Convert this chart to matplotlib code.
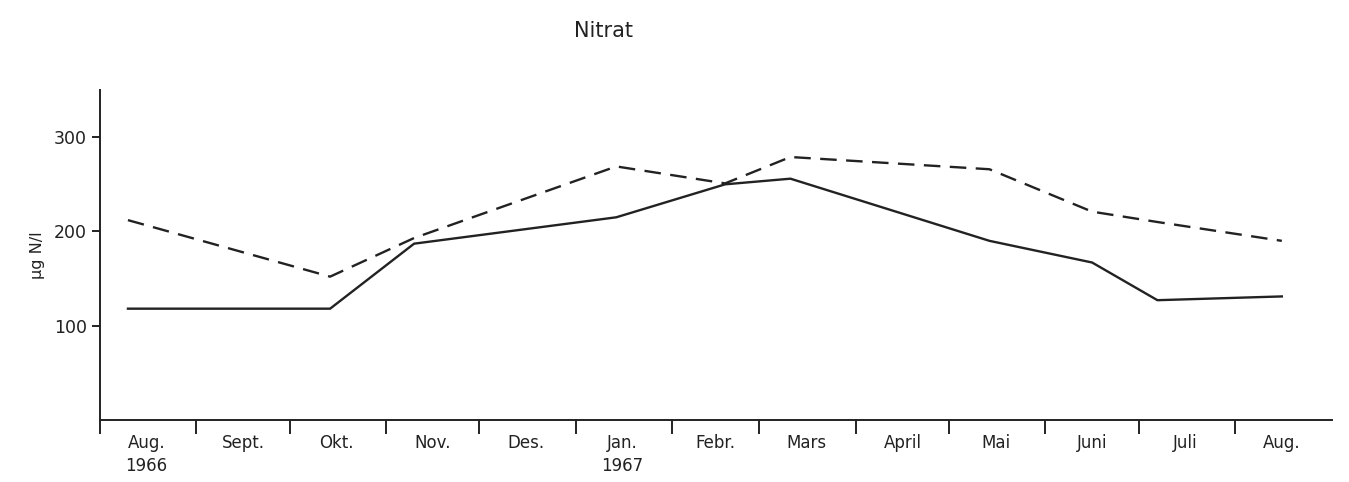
import numpy as np
import matplotlib.pyplot as plt
import matplotlib.dates as mdates
from matplotlib.ticker import FixedLocator, NullFormatter

# sampling dates and nitrate (ug N/l)
dates_solid = np.array(['1966-08-10', '1966-10-14', '1966-11-10', '1967-01-14',
                        '1967-02-18', '1967-03-11', '1967-05-14', '1967-06-16',
                        '1967-07-07', '1967-08-16'], dtype='datetime64[D]')
vals_solid = [118, 118, 187, 215, 250, 256, 190, 167, 127, 131]

dates_dash = np.array(['1966-08-10', '1966-10-14', '1966-11-10', '1967-01-14',
                       '1967-02-18', '1967-03-11', '1967-05-14', '1967-06-16',
                       '1967-07-07', '1967-08-16'], dtype='datetime64[D]')
vals_dash = [212, 152, 193, 269, 251, 279, 266, 221, 210, 190]

month_edges = np.arange(np.datetime64('1966-08'), np.datetime64('1967-10'),
                        dtype='datetime64[M]').astype('datetime64[D]')
month_labels = ['Aug.\n1966', 'Sept.', 'Okt.', 'Nov.', 'Des.', 'Jan.\n1967', 'Febr.',
                'Mars', 'April', 'Mai', 'Juni', 'Juli', 'Aug.']
yticks = [100, 200, 300]

col = '#222222'
fig = plt.figure(figsize=(13.49, 4.82), dpi=100)
ax = fig.add_axes([0.0741, 0.129, 0.913, 0.684])

ax.plot(dates_solid, vals_solid, color=col, lw=1.7)
ax.plot(dates_dash, vals_dash, color=col, lw=1.7, dashes=(7, 4))

ax.set_xlim(month_edges[0], month_edges[-1])
ax.set_ylim(0, 350)

mids = month_edges[:-1] + (month_edges[1:] - month_edges[:-1]) // 2
ax.xaxis.set_major_locator(FixedLocator(mdates.date2num(month_edges[:-1])))
ax.xaxis.set_major_formatter(NullFormatter())
ax.xaxis.set_minor_locator(FixedLocator(mdates.date2num(mids)))
ax.set_xticklabels(month_labels, minor=True, linespacing=1.35)
ax.tick_params(axis='x', which='major', length=10, width=1.4, color=col, direction='out')
ax.tick_params(axis='x', which='minor', length=0, pad=10, labelsize=12, colors=col)

ax.set_yticks(yticks)
ax.tick_params(axis='y', length=6, width=1.4, color=col, labelsize=12.5, labelcolor=col)

for s in ['top', 'right']:
    ax.spines[s].set_visible(False)
for s in ['left', 'bottom']:
    ax.spines[s].set_linewidth(1.4)
    ax.spines[s].set_color(col)

ax.set_ylabel('µg N/l', fontsize=11.5, color=col, labelpad=6)
fig.text(0.447, 0.935, 'Nitrat', ha='center', va='center', fontsize=15,
         fontweight='medium', color=col)

fig.savefig('out.png', dpi=100)
